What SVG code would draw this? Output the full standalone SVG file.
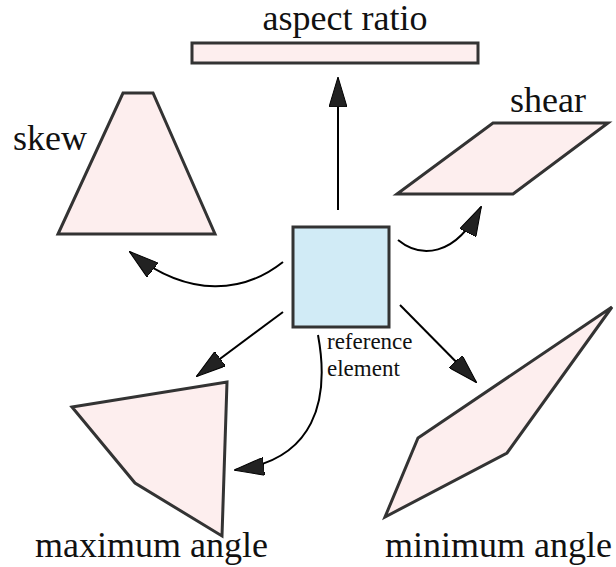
<svg xmlns="http://www.w3.org/2000/svg" width="616" height="567" viewBox="0 0 616 567">
<style>
.shape{fill:#fdeeee;stroke:#333;stroke-width:3;stroke-linejoin:miter}
.ref{fill:#d1ebf6;stroke:#333;stroke-width:3}
text{font-family:'Times New Roman','Liberation Serif','DejaVu Serif',serif;fill:#111}
.lbl{font-size:36px}
.small{font-size:23px}
.conn{fill:none;stroke:#000;stroke-width:2;marker-end:url(#ah)}
</style>
<defs>
<marker id="ah" markerUnits="userSpaceOnUse" markerWidth="30" markerHeight="18" viewBox="0 0 30 18" refX="29" refY="9" orient="auto">
<path d="M0,0 L30,9 L0,18 z" fill="#222" stroke="#000" stroke-width="1"/>
</marker>
</defs>
<rect width="616" height="567" fill="#fff"/>
<g id="aspect-ratio">
<rect class="shape" x="192" y="43" width="286" height="20"/>
<text class="lbl" x="345" y="30" text-anchor="middle">aspect ratio</text>
</g>
<g id="skew">
<polygon class="shape" points="123,93 153,93 215,234 58,234"/>
<text class="lbl" x="13" y="150">skew</text>
</g>
<g id="shear">
<polygon class="shape" points="493,123 608,123 513,194 397,194"/>
<text class="lbl" x="510" y="112">shear</text>
</g>
<g id="reference-element">
<rect class="ref" x="293" y="227" width="96" height="100"/>
<text class="small" x="327" y="349">reference</text>
<text class="small" x="327" y="376">element</text>
</g>
<g id="maximum-angle">
<polygon class="shape" points="72,407 227,382 222,536 135,483"/>
<text class="lbl" x="35" y="557">maximum angle</text>
</g>
<g id="minimum-angle">
<polygon class="shape" points="612,307 418,438 385,517 507,453"/>
<text class="lbl" x="385" y="557">minimum angle</text>
</g>
<g id="connectors">
<path class="conn" d="M338,210 L338,78"/>
<path class="conn" d="M283,262 C245,292 190,300 130,252"/>
<path class="conn" d="M398,240 C420,258 455,258 481,207"/>
<path class="conn" d="M283,312 L197,376"/>
<path class="conn" d="M400,305 L476,382"/>
<path class="conn" d="M318,335 C330,400 315,460 235,470"/>
</g>
</svg>
